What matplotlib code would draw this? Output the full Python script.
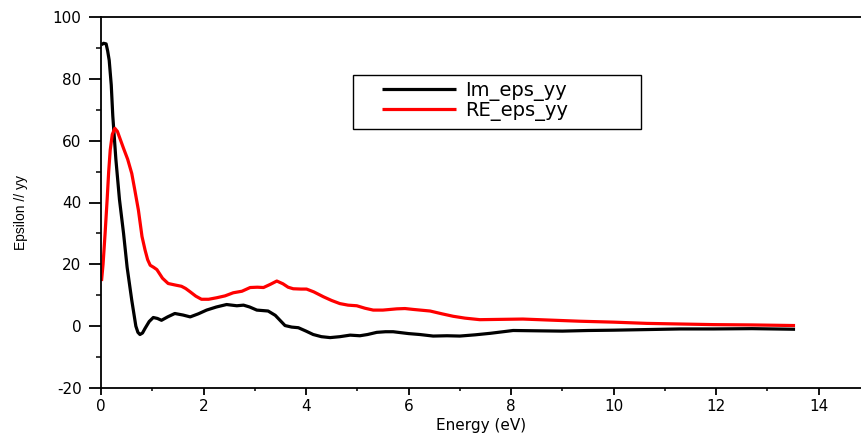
import numpy as np
import matplotlib
matplotlib.use("Agg")
import matplotlib.pyplot as plt
from matplotlib.ticker import MultipleLocator
from matplotlib.patches import Rectangle

plt.rcParams['font.family'] = ['DejaVu Sans']
plt.rcParams['axes.unicode_minus'] = False

# Im part (black)
e_im = [0.01, 0.05, 0.10, 0.13, 0.16, 0.20, 0.23, 0.29, 0.36, 0.44, 0.51, 0.60,
        0.68, 0.72, 0.76, 0.81, 0.86, 0.94, 1.02, 1.10, 1.18, 1.30, 1.44, 1.60,
        1.74, 1.90, 2.06, 2.25, 2.45, 2.65, 2.78, 2.90, 3.04, 3.26, 3.40, 3.59,
        3.72, 3.85, 4.00, 4.14, 4.30, 4.47, 4.66, 4.86, 5.05, 5.20, 5.38, 5.55,
        5.70, 5.85, 6.00, 6.22, 6.48, 6.75, 7.00, 7.30, 7.60, 8.04, 8.50, 9.00,
        9.50, 10.00, 10.65, 11.30, 11.95, 12.70, 13.54]
im_eps = [91.0, 91.5, 91.3, 89.0, 86.0, 78.0, 68.0, 54.0, 41.0, 30.0, 19.0, 8.4,
          0.0, -2.0, -2.7, -2.2, -0.7, 1.5, 2.8, 2.5, 1.9, 3.0, 4.1, 3.6,
          3.0, 4.0, 5.2, 6.2, 7.0, 6.6, 6.8, 6.2, 5.2, 4.9, 3.5, 0.2,
          -0.3, -0.5, -1.6, -2.7, -3.4, -3.7, -3.4, -2.9, -3.1, -2.7, -2.0, -1.8,
          -1.8, -2.1, -2.4, -2.7, -3.2, -3.1, -3.2, -2.8, -2.3, -1.4, -1.5, -1.6,
          -1.4, -1.3, -1.1, -0.9, -0.9, -0.8, -1.0]

# Re part (red)
e_re = [0.01, 0.04, 0.08, 0.12, 0.15, 0.18, 0.22, 0.27, 0.32, 0.44, 0.52, 0.60,
        0.66, 0.73, 0.80, 0.86, 0.91, 0.96, 1.03, 1.09, 1.20, 1.31, 1.45, 1.57,
        1.65, 1.74, 1.85, 1.96, 2.10, 2.26, 2.42, 2.58, 2.75, 2.91, 3.05, 3.17,
        3.30, 3.43, 3.55, 3.65, 3.75, 3.90, 4.01, 4.15, 4.34, 4.50, 4.66, 4.82,
        4.99, 5.15, 5.31, 5.50, 5.77, 5.93, 6.10, 6.42, 6.65, 6.87, 7.10, 7.39,
        7.80, 8.23, 8.70, 9.34, 10.00, 10.65, 11.30, 11.95, 12.70, 13.54]
re_eps = [14.6, 20.0, 30.0, 41.0, 50.0, 57.0, 62.0, 64.0, 63.0, 57.5, 54.0, 49.4,
          44.0, 37.5, 29.0, 24.6, 21.5, 19.7, 19.0, 18.3, 15.5, 13.8, 13.3, 12.9,
          12.2, 11.1, 9.7, 8.7, 8.7, 9.2, 9.8, 10.8, 11.3, 12.5, 12.6, 12.5,
          13.5, 14.6, 13.7, 12.6, 12.1, 12.0, 12.0, 11.1, 9.5, 8.3, 7.3, 6.8,
          6.6, 5.8, 5.2, 5.2, 5.6, 5.7, 5.4, 4.9, 4.0, 3.2, 2.6, 2.1,
          2.2, 2.3, 2.0, 1.6, 1.3, 0.9, 0.7, 0.5, 0.4, 0.2]

fig = plt.figure(figsize=(8.61, 4.41), dpi=100)
ax = fig.add_axes([101/861, 1 - 388/441, 760/861, 371/441])

ax.plot(e_im, im_eps, color='black', lw=2.3, label='Im_eps_yy',
        solid_joinstyle='round', solid_capstyle='butt')
ax.plot(e_re, re_eps, color='#ff0000', lw=2.3, label='RE_eps_yy',
        solid_joinstyle='round', solid_capstyle='butt')

ax.set_xlim(0, 760/51.26)
ax.set_ylim(-20, 100)
ax.xaxis.set_major_locator(MultipleLocator(2))
ax.xaxis.set_minor_locator(MultipleLocator(1))
ax.yaxis.set_major_locator(MultipleLocator(20))
ax.yaxis.set_minor_locator(MultipleLocator(10))

ax.spines['right'].set_visible(False)
for s in ['left', 'top', 'bottom']:
    ax.spines[s].set_linewidth(1.3)

ax.tick_params(axis='y', which='major', direction='out', length=9, width=1.3,
               pad=5, labelsize=11)
ax.tick_params(axis='y', which='minor', direction='out', length=3.6, width=1.1)
ax.tick_params(axis='x', which='major', direction='out', length=5, width=1.3,
               pad=3, labelsize=11)
ax.tick_params(axis='x', which='minor', direction='out', length=2.5, width=1.1)

ax.set_xlabel('Energy (eV)', fontsize=11, labelpad=3)
ax.set_ylabel('Epsilon // yy', fontsize=10,
              family=['Liberation Sans Narrow', 'Liberation Sans', 'DejaVu Sans'])
ax.yaxis.set_label_coords(-0.096, 0.474)

# legend frame drawn as a box, entries placed inside
box = Rectangle((0.3316, 0.698), 0.379, 0.1457, transform=ax.transAxes,
                facecolor='white', edgecolor='black', lw=1.0, zorder=4)
ax.add_patch(box)
leg = ax.legend(loc='upper left', bbox_to_anchor=(0.3697, 0.8275),
                fontsize=14, frameon=False, handlelength=3.8,
                handletextpad=0.46, labelspacing=0.0, borderpad=0,
                borderaxespad=0)
leg.set_zorder(5)
for h in leg.get_lines():
    h.set_linewidth(2.3)

fig.savefig('out.png', dpi=100)
